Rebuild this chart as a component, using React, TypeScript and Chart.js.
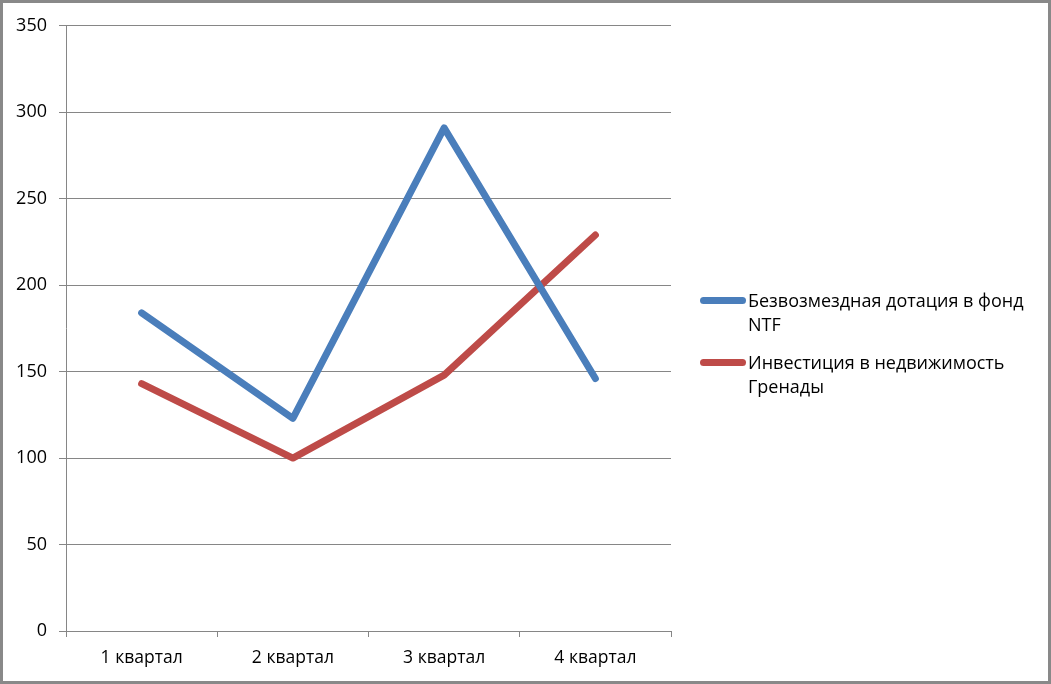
import { useEffect, useRef } from 'react';
import Chart from 'chart.js/auto';

const quarters = ['1 квартал', '2 квартал', '3 квартал', '4 квартал'];
const grantSeries = [184, 123, 291, 146];
const investSeries = [143, 100, 148, 229];
const grantLabel = ['Безвозмездная дотация в фонд', 'NTF'];
const investLabel = ['Инвестиция в недвижимость', 'Гренады'];

const BLUE = '#4a7ebb';
const RED = '#be4b48';
const GRID = '#868686';
const FONT = "'Open Sans', 'Noto Sans', sans-serif";

export default function App() {
    const canvasRef = useRef<HTMLCanvasElement | null>(null);

    useEffect(() => {
        document.body.style.margin = '0';
        if (!canvasRef.current) return;
        const ctx = canvasRef.current.getContext('2d');
        if (!ctx) return;
        const chart = new Chart(ctx, {
            type: 'line',
            data: {
                labels: quarters,
                datasets: [
                    { label: grantLabel.join(' '), data: grantSeries, borderColor: BLUE, backgroundColor: BLUE },
                    { label: investLabel.join(' '), data: investSeries, borderColor: RED, backgroundColor: RED },
                ],
            },
            options: {
                animation: false,
                responsive: false,
                devicePixelRatio: 1,
                layout: { padding: { top: 21, right: 377, left: 0, bottom: 0 } },
                elements: {
                    line: { borderWidth: 7, borderCapStyle: 'round', borderJoinStyle: 'round', tension: 0 },
                    point: { radius: 0, hoverRadius: 0 },
                },
                plugins: { legend: { display: false }, tooltip: { enabled: false } },
                scales: {
                    x: {
                        offset: true,
                        grid: { offset: true, drawOnChartArea: false, color: GRID, tickLength: 6, tickColor: GRID },
                        border: { color: GRID },
                        ticks: { color: '#000', padding: 11, font: { family: FONT, size: 17.5 }, maxRotation: 0 },
                        afterFit: (s: any) => { s.height = 50; },
                    },
                    y: {
                        min: 0,
                        max: 350,
                        ticks: { stepSize: 50, color: '#000', padding: 12, font: { family: FONT, size: 18 } },
                        grid: { color: GRID, tickLength: 7, tickColor: GRID },
                        border: { color: GRID },
                        afterFit: (s: any) => { s.width = 63; },
                    },
                },
            },
        });
        return () => chart.destroy();
    }, []);

    const legendRow = (color: string, lines: string[], top: number) => (
        <div style={{ position: 'absolute', left: 697, top, display: 'flex', alignItems: 'flex-start' }}>
            <div style={{ width: 46, height: 7, borderRadius: 4, background: color, marginTop: 9 }} />
            <div style={{ marginLeft: 2, fontFamily: FONT, fontSize: 18, lineHeight: '24px', color: '#000', whiteSpace: 'nowrap' }}>
                {lines.map((l, i) => <div key={i}>{l}</div>)}
            </div>
        </div>
    );

    return (
        <div style={{ position: 'fixed', left: 0, top: 0, width: 1051, height: 684, boxSizing: 'border-box', border: '3px solid #898989', background: '#fff' }}>
            <canvas ref={canvasRef} width={1045} height={678} style={{ display: 'block' }} />
            {legendRow(BLUE, grantLabel, 285)}
            {legendRow(RED, investLabel, 347)}
        </div>
    );
}
